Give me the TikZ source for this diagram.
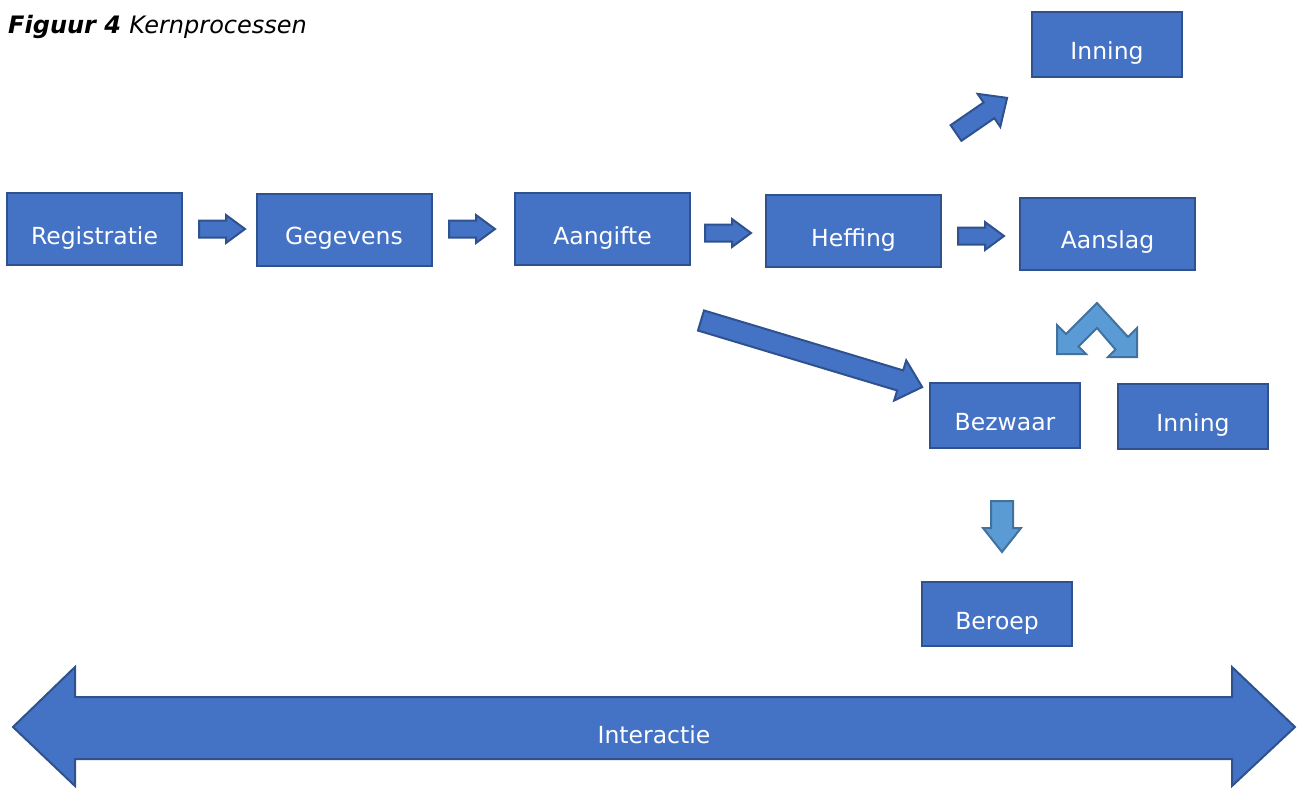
\documentclass[tikz,border=0pt]{standalone}
\usepackage{fontspec}
\setmainfont{DejaVu Sans}
\definecolor{boxfill}{HTML}{4472C4}
\definecolor{boxline}{HTML}{2F528F}
\definecolor{lightfill}{HTML}{5B9BD5}
\definecolor{lightline}{HTML}{41719C}
\newcommand\blockarr[7]{%
  \begin{scope}[shift={#2},rotate=#3]
    \draw[#1] (0,-#5) -- ({#4-#7},-#5) -- ({#4-#7},-#6) -- (#4,0) -- ({#4-#7},#6) -- ({#4-#7},#5) -- (0,#5) -- cycle;
  \end{scope}}
\tikzset{
  procbox/.style={draw=boxline, fill=boxfill, line width=2pt, text=white,
    font=\fontsize{23.5}{28}\selectfont, text height=30pt, text depth=0pt,
    minimum width=175pt, minimum height=72pt, inner sep=0pt},
  smallbox/.style={procbox, minimum width=150pt, minimum height=65pt},
  darrow/.style={draw=boxline, fill=boxfill, line width=2pt, line join=miter},
  larrow/.style={draw=lightline, fill=lightfill, line width=2pt, line join=miter},
}
\begin{document}
\begin{tikzpicture}[x=1pt,y=-1pt]
\useasboundingbox (0,0) rectangle (1300,787);
% title
\node[anchor=base west, inner sep=0pt, font=\fontsize{24}{28}\selectfont] (title) at (8,33)
  {\bfseries\itshape Figuur 4 \mdseries Kernprocessen};
% boxes
\node[procbox] (reg) at (94.5,229) {Registratie};
\node[procbox] (geg) at (344,229.5) {Gegevens};
\node[procbox] (aan) at (602.5,229) {Aangifte};
\node[procbox] (hef) at (853.5,231) {Heffing};
\node[procbox] (ans) at (1107.5,233.5) {Aanslag};
\node[smallbox] (inn1) at (1107,44.5) {Inning};
\node[smallbox] (bez) at (1005,415.5) {Bezwaar};
\node[smallbox] (inn2) at (1193,416.5) {Inning};
\node[smallbox, minimum height=64pt] (ber) at (997,614) {Beroep};
% small right arrows
\blockarr{darrow}{(199,229)}{0}{46}{8.5}{14}{19}
\blockarr{darrow}{(449,229)}{0}{46}{8.5}{14}{19}
\blockarr{darrow}{(705,233)}{0}{46}{8.5}{14}{19}
\blockarr{darrow}{(958,236)}{0}{46}{8.5}{14}{19}
% diagonal up to Inning
\blockarr{darrow}{(956,133)}{34.5}{62}{9.5}{20}{22}
% long diagonal to Bezwaar
\blockarr{darrow}{(701,320.5)}{-16.75}{231}{10.5}{21}{23}
% down arrow to Beroep
\blockarr{larrow}{(1002,501)}{-90}{51}{11}{19}{24}
% chevron double arrow
\draw[larrow] (1097,303) -- (1066,334) -- (1057,325) -- (1057,354) -- (1086,354)
  -- (1078.5,346.5) -- (1097,328) -- (1115.5,349.5) -- (1108,357) -- (1137,357)
  -- (1137,328) -- (1128,337) -- cycle;
% big double arrow
\draw[darrow] (13,727) -- (75,667) -- (75,697) -- (1232,697) -- (1232,667) -- (1295,727)
  -- (1232,786) -- (1232,759) -- (75,759) -- (75,786) -- cycle;
\node[text=white, font=\fontsize{23.5}{28}\selectfont, anchor=base, inner sep=0pt] (inter) at (654,743) {Interactie};
\end{tikzpicture}
\end{document}
